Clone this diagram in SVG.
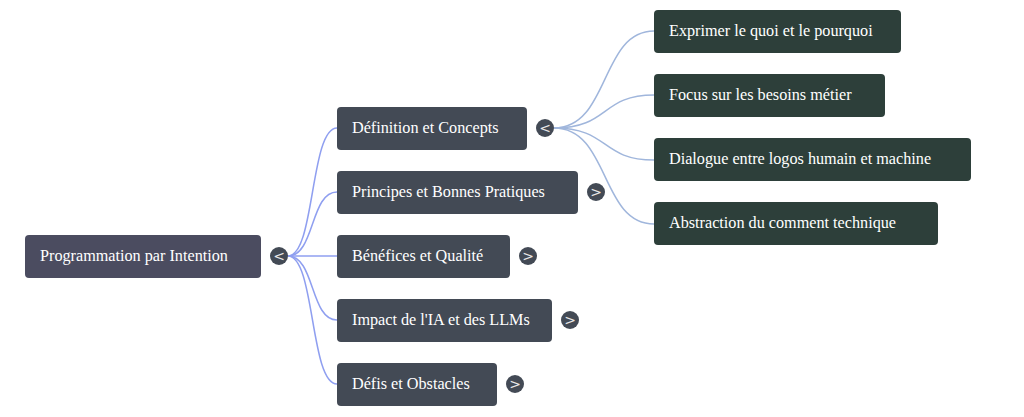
<svg xmlns="http://www.w3.org/2000/svg" width="1024" height="417" viewBox="0 0 1024 417">
<style>
text{font-family:"Liberation Serif",serif;font-size:16.2px;fill:#fff}
.root{fill:#4b4c60}.l1{fill:#434a55}.l2{fill:#2d3f3a}
.tg{fill:#434a55}.tg text{font-family:"DejaVu Sans",sans-serif;font-size:14px;text-anchor:middle;fill:#e8e8e8}
.c1{fill:none;stroke:#8f9ff0;stroke-width:1.5}.c2{fill:none;stroke:#a0b6dc;stroke-width:1.5}
</style>
<rect width="1024" height="417" fill="#fff"/>
<g id="connectors">
<path class="c1" d="M288,256 C315,256 310,128 337,128"/>
<path class="c1" d="M288,256 C315,256 310,192 337,192"/>
<path class="c1" d="M288,256 L337,256"/>
<path class="c1" d="M288,256 C315,256 310,320 337,320"/>
<path class="c1" d="M288,256 C315,256 310,384 337,384"/>
<path class="c2" d="M554,128 C610,128 600,31 654,31"/>
<path class="c2" d="M554,128 C610,128 600,95 654,95"/>
<path class="c2" d="M554,128 C610,128 600,160 654,160"/>
<path class="c2" d="M554,128 C610,128 600,224 654,224"/>
</g>
<g id="root"><rect class="root" x="25" y="235" width="236" height="43" rx="4"/><text x="40" y="261">Programmation par Intention</text></g>
<g id="t0" class="tg"><circle cx="279" cy="256" r="9"/><text x="279" y="261">&lt;</text></g>
<g id="n1"><rect class="l1" x="337" y="107" width="190" height="43" rx="4"/><text x="352" y="133">Définition et Concepts</text></g>
<g id="t1" class="tg"><circle cx="545" cy="128" r="9"/><text x="545" y="133">&lt;</text></g>
<g id="n2"><rect class="l1" x="337" y="171" width="241" height="43" rx="4"/><text x="352" y="197">Principes et Bonnes Pratiques</text></g>
<g id="t2" class="tg"><circle cx="596" cy="192" r="9"/><text x="596" y="197">&gt;</text></g>
<g id="n3"><rect class="l1" x="337" y="235" width="173" height="43" rx="4"/><text x="352" y="261">Bénéfices et Qualité</text></g>
<g id="t3" class="tg"><circle cx="528" cy="256" r="9"/><text x="528" y="261">&gt;</text></g>
<g id="n4"><rect class="l1" x="337" y="299" width="215" height="43" rx="4"/><text x="352" y="325">Impact de l'IA et des LLMs</text></g>
<g id="t4" class="tg"><circle cx="570" cy="320" r="9"/><text x="570" y="325">&gt;</text></g>
<g id="n5"><rect class="l1" x="337" y="363" width="160" height="43" rx="4"/><text x="352" y="389">Défis et Obstacles</text></g>
<g id="t5" class="tg"><circle cx="515" cy="384" r="9"/><text x="515" y="389">&gt;</text></g>
<g id="n11"><rect class="l2" x="654" y="10" width="247" height="43" rx="4"/><text x="669" y="36">Exprimer le quoi et le pourquoi</text></g>
<g id="n12"><rect class="l2" x="654" y="74" width="231" height="43" rx="4"/><text x="669" y="100">Focus sur les besoins métier</text></g>
<g id="n13"><rect class="l2" x="654" y="138" width="317" height="43" rx="4"/><text x="669" y="164">Dialogue entre logos humain et machine</text></g>
<g id="n14"><rect class="l2" x="654" y="202" width="284" height="43" rx="4"/><text x="669" y="228">Abstraction du comment technique</text></g>
</svg>
